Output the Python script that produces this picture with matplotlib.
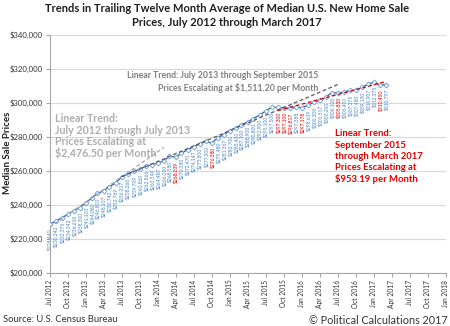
import numpy as np
import pandas as pd
import matplotlib
matplotlib.use("Agg")
import matplotlib.pyplot as plt
import matplotlib.dates as mdates
from matplotlib.transforms import ScaledTranslation

plt.rcParams['font.family'] = ['Lato', 'DejaVu Sans']

# trailing twelve month average of median new home sale prices, Jul 2012 - Mar 2017
months = pd.date_range('2012-07-01', '2017-03-01', freq='MS')
prices = [228440, 230242, 232375, 234342, 236610, 238300, 241100, 244080,
          246800, 248107, 250742, 252769, 256317, 258260, 259709, 260860,
          262866, 263549, 264487, 266000, 268580, 268039, 270380, 272470,
          274147, 275800, 277300, 276380, 279480, 281367, 283700, 285400,
          287100, 288900, 290800, 292900, 295100, 297500, 297300, 297100,
          296817, 297388, 297178, 298639, 300300, 301517, 303200, 306100,
          305830, 306400, 307375, 307480, 309150, 310907, 312375, 310450,
          310797]

# linear trends: (first month index, last month index, $ per month, months drawn past the fit)
trend_ranges = [(0, 12, 2476.50, 7), (12, 38, 1511.20, 10), (38, 56, 953.19, 0)]
trend_colors = ['#A6A6A6', '#595959', '#E00000']

W, H = 450, 326
fig = plt.figure(figsize=(W / 100, H / 100), dpi=100)
ax = fig.add_axes([49.5 / W, 1 - 272.7 / H, (446 - 49.5) / W, (272.7 - 35) / H])

t = np.arange(len(prices))
y = np.array(prices, dtype=float)

ax.plot(months, y, color='#2E5FA8', lw=0.9, marker='D', markersize=2.5,
        markerfacecolor='white', markeredgecolor='#6A9BD6', markeredgewidth=0.6, zorder=3)

# value labels under each point, red where the average dipped
for i, (d, v) in enumerate(zip(months, prices)):
    col = '#E00000' if i > 0 and v < prices[i - 1] else '#4A86C8'
    ax.annotate(f"${v:,.0f}", (d, v), xytext=(0, -3), textcoords='offset points',
                rotation=90, ha='center', va='top', fontsize=3.6, color=col, zorder=2)

all_months = pd.date_range('2012-07-01', periods=80, freq='MS')
for (a, b, slope, ext), col in zip(trend_ranges, trend_colors):
    tt = t[a:b + 1]
    b0 = y[a:b + 1].mean() - slope * tt.mean()
    tx = np.arange(a, b + ext + 1)
    ax.plot(all_months[tx], b0 + slope * tx, color=col, lw=0.9, ls=(0, (3, 2)), zorder=4)

ax.set_ylim(200000, 340000)
ax.set_yticks(np.arange(200000, 340001, 20000))
ax.yaxis.set_major_formatter(plt.FuncFormatter(lambda v, p: f"${v:,.0f}"))
ax.set_xlim(mdates.date2num(pd.Timestamp('2012-07-01')), mdates.date2num(pd.Timestamp('2018-01-01')))
ticks = pd.date_range('2012-07-01', '2018-01-01', freq='3MS')
ax.set_xticks(ticks)
ax.set_xticklabels([d.strftime('%b %Y') for d in ticks], rotation=90, fontsize=4.8, color='#333333')
for lbl in ax.get_xticklabels():
    lbl.set_transform(lbl.get_transform() + ScaledTranslation(4 / 100, 0, fig.dpi_scale_trans))
ax.tick_params(axis='y', labelsize=5.6, labelcolor='#333333', length=3, color='#A6A6A6', pad=2)
ax.tick_params(axis='x', length=3, color='#A6A6A6', pad=2)
ax.yaxis.grid(True, color='#D9D9D9', lw=0.8)
ax.set_axisbelow(True)
for s in ['top', 'right']:
    ax.spines[s].set_visible(False)
for s in ['left', 'bottom']:
    ax.spines[s].set_color('#A6A6A6')
    ax.spines[s].set_linewidth(0.8)


def px_text(x, yy, s, **kw):
    fig.text(x / W, 1 - yy / H, s, **kw)


px_text(227, 8, "Trends in Trailing Twelve Month Average of Median U.S. New Home Sale",
        ha='center', va='center', fontsize=8, fontweight='bold', color='#1F1F1F')
px_text(227, 22, "Prices, July 2012 through March 2017",
        ha='center', va='center', fontsize=8, fontweight='bold', color='#1F1F1F')
px_text(8, 153, "Median Sale Prices", rotation=90, ha='center', va='center',
        fontsize=7, fontweight='bold', color='#1F1F1F')

for yy, s in zip([119, 130.7, 141.7, 153],
                 ["Linear Trend:", "July 2012 through July 2013",
                  "Prices Escalating at", "$2,476.50 per Month"]):
    px_text(55, yy, s, ha='left', va='center', fontsize=7.7, fontweight='bold', color='#ADADAD')

for yy, s in zip([75, 87.7],
                 ["Linear Trend: July 2013 through September 2015",
                  "Prices Escalating at $1,511.20 per Month"]):
    px_text(318, yy, s, ha='right', va='center', fontsize=6.3, fontweight='bold', color='#7F7F7F')

for yy, s in zip([133, 145, 156.5, 168, 179.5],
                 ["Linear Trend:", "September 2015", "through March 2017",
                  "Prices Escalating at", "$953.19 per Month"]):
    px_text(335, yy, s, ha='left', va='center', fontsize=6.8, fontweight='bold', color='#E00000')

px_text(3, 320, "Source: U.S. Census Bureau", ha='left', va='center', fontsize=6.8, color='#333333')
px_text(448, 320, "\u00a9 Political Calculations 2017", ha='right', va='center', fontsize=7.8, color='#333333')

fig.savefig('out.png', dpi=100)
